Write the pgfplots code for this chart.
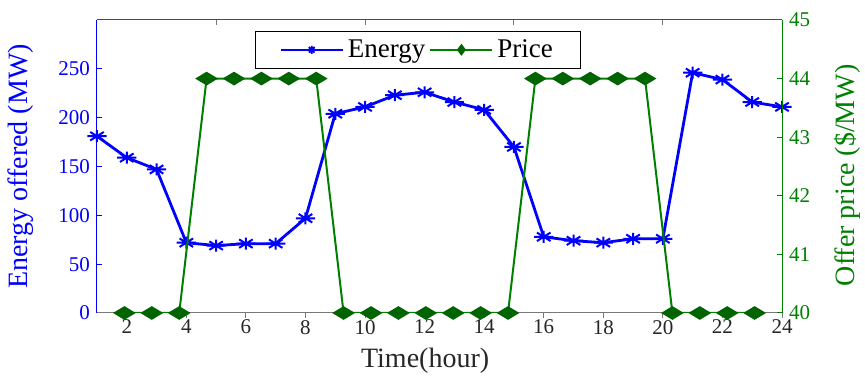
\documentclass[border=0pt]{standalone}
\usepackage{fontspec}
\setmainfont{Liberation Serif}
\usepackage{pgfplots}
\usepackage{pgfplotstable}
\pgfplotsset{compat=1.18}
\definecolor{eblue}{RGB}{0,0,255}
\definecolor{pgreen}{RGB}{0,128,0}
\definecolor{dgreen}{RGB}{0,100,0}
\definecolor{axgray}{RGB}{120,120,120}
\definecolor{txtgray}{RGB}{38,38,38}

\pgfdeclareplotmark{mstar}{%
 \pgfpathmoveto{\pgfqpoint{-\pgfplotmarksize}{0pt}}\pgfpathlineto{\pgfqpoint{\pgfplotmarksize}{0pt}}%
 \pgfpathmoveto{\pgfqpoint{0pt}{-\pgfplotmarksize}}\pgfpathlineto{\pgfqpoint{0pt}{\pgfplotmarksize}}%
 \pgfpathmoveto{\pgfqpoint{-.7071\pgfplotmarksize}{-.7071\pgfplotmarksize}}\pgfpathlineto{\pgfqpoint{.7071\pgfplotmarksize}{.7071\pgfplotmarksize}}%
 \pgfpathmoveto{\pgfqpoint{-.7071\pgfplotmarksize}{.7071\pgfplotmarksize}}\pgfpathlineto{\pgfqpoint{.7071\pgfplotmarksize}{-.7071\pgfplotmarksize}}%
 \pgfusepathqstroke}

\pgfplotstableread{
hour energy
1 181
2 159
3 147
4 72
5 69
6 71
7 71
8 97
9 204
10 211
11 223
12 226
13 216
14 208
15 170
16 78
17 74
18 72
19 76
20 76
21 246
22 239
23 216
24 211
}\energydata

\pgfplotstableread{
hour price
1 40
2 40
3 40
4 44
5 44
6 44
7 44
8 44
9 40
10 40
11 40
12 40
13 40
14 40
15 40
16 44
17 44
18 44
19 44
20 44
21 40
22 40
23 40
24 40
}\pricedata

\begin{document}
\begin{tikzpicture}
\path[use as bounding box] (-48.5pt,-35pt) rectangle (384pt,156.5pt);
\begin{axis}[
  at={(0,0)}, anchor=south west, scale only axis,
  width=342.5pt, height=146.5pt,
  xmin=1, xmax=24, ymin=0, ymax=300,
  axis x line*=bottom, axis y line*=left,
  x axis line style={axgray, line width=0.5pt},
  y axis line style={eblue, line width=0.5pt},
  xtick={2,4,...,24}, ytick={0,50,...,250},
  major tick length=2.5pt,
  x tick style={axgray, yshift=-2.5pt, line width=0.5pt},
  y tick style={eblue, line width=0.5pt},
  /pgf/number format/assume math mode=true,
  tick label style={font=\fontsize{10.5}{12}\selectfont},
  xticklabel style={txtgray},
  yticklabel style={eblue},
  xlabel={Time(hour)}, ylabel={Energy offered (MW)},
  label style={font=\fontsize{14}{16}\selectfont},
  xlabel style={txtgray, at={(axis description cs:0.479,0)}, anchor=center, yshift=-24pt},
  ylabel style={eblue, at={(axis description cs:0,0.5)}, anchor=center, yshift=38pt},
]
\addplot[eblue, line width=1.4pt, mark=mstar, mark size=3pt,
  mark options={xscale=1.6, line width=1pt}] table[x=hour, y=energy] {\energydata};
\end{axis}
\begin{axis}[
  at={(0,0)}, anchor=south west, scale only axis,
  width=342.5pt, height=146.5pt,
  xmin=0, xmax=25, ymin=40, ymax=45,
  axis x line*=top, axis y line*=right,
  x axis line style={pgreen, line width=0.5pt},
  y axis line style={pgreen, line width=0.5pt},
  xtick={4.3478,9.7826,15.2174,20.6522}, xticklabels={},
  ytick={40,41,...,45},
  major tick length=2.5pt,
  x tick style={axgray, line width=0.5pt},
  y tick style={pgreen, line width=0.5pt},
  /pgf/number format/assume math mode=true,
  tick label style={font=\fontsize{10.5}{12}\selectfont},
  yticklabel style={pgreen},
  ylabel={Offer price (\$/MW)},
  label style={font=\fontsize{14}{16}\selectfont},
  ylabel style={pgreen, at={(axis description cs:1,0.47)}, anchor=center, yshift=-32.5pt},
  legend columns=2,
  legend style={at={(0.2307,0.963)}, anchor=north west, draw=black, line width=0.5pt,
    fill=white, font=\fontsize{13.5}{15}\selectfont, inner xsep=12pt, inner ysep=3.5pt,
    nodes={inner ysep=0.5pt}},
  legend image code/.code={\draw[mark repeat=2,mark phase=2,#1] plot coordinates {(0pt,0pt) (15.5pt,0pt) (31pt,0pt)};},
]
\addlegendimage{eblue, line width=1.2pt, mark=mstar, mark size=2pt, mark options={line width=0.9pt}}
\addlegendentry{Energy}
\addlegendimage{pgreen, line width=1pt, mark=diamond*, mark size=2.2pt, mark options={fill=dgreen, draw=dgreen}}
\addlegendentry{Price}
\addplot[pgreen, line width=1pt, mark=diamond*, mark size=3pt,
  mark options={xscale=2.1, yscale=0.95, fill=dgreen, draw=dgreen}, forget plot] table[x=hour, y=price] {\pricedata};
\end{axis}
\end{tikzpicture}
\end{document}
